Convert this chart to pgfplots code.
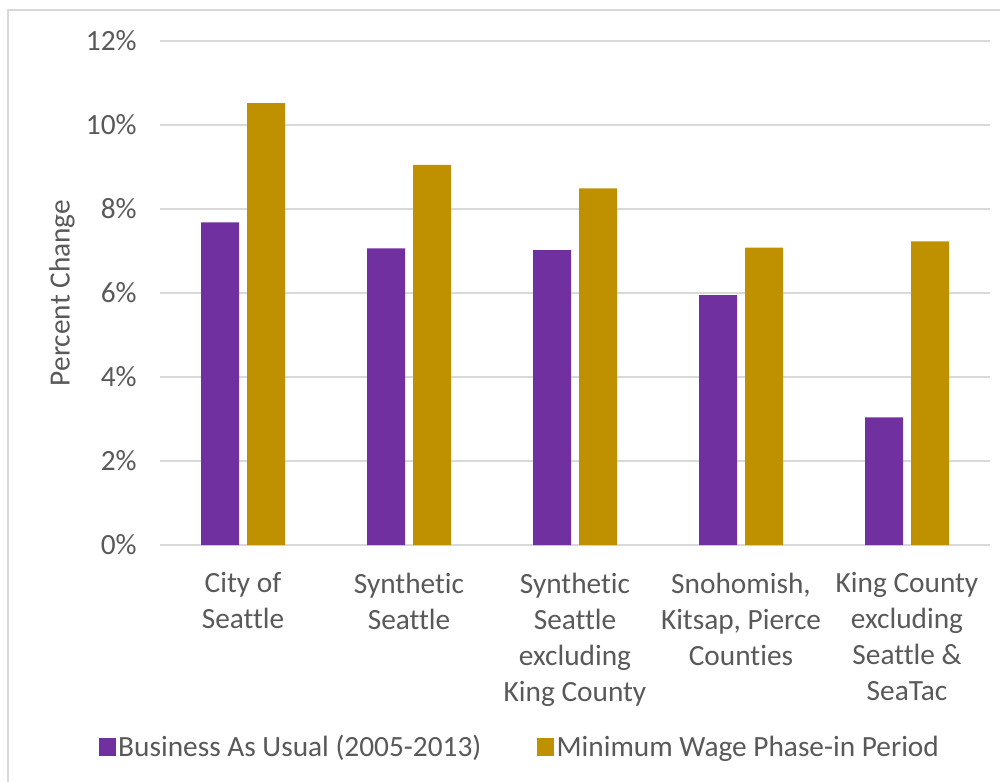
\documentclass[border=0pt]{standalone}
\usepackage{fontspec}
\setmainfont{Carlito}[Ligatures=NoCommon]
\usepackage{pgfplots}
\pgfplotsset{compat=1.18}
\definecolor{bau}{HTML}{7030A0}
\definecolor{mw}{HTML}{BF9000}
\definecolor{txt}{HTML}{595959}
\definecolor{gridc}{HTML}{D9D9D9}

\begin{document}
\begin{tikzpicture}
\useasboundingbox (0pt,0pt) rectangle (750pt,586.5pt);
\draw[gridc,line width=1.1pt] (6pt,-15pt) rectangle (765pt,579pt);
\begin{axis}[
  at={(120pt,177.75pt)},anchor=south west,
  width=622.5pt,height=378pt,scale only axis,
  clip=false,
  ymin=0,ymax=12,
  ytick={0,2,4,6,8,10,12},
  yticklabel={\pgfmathprintnumber{\tick}\%},
  xmin=-0.5,xmax=4.5,
  xtick={0,1,2,3,4},
  xticklabels={{City of\\Seattle},{Synthetic\\Seattle},{Synthetic\\Seattle\\excluding\\King County},{Snohomish,\\Kitsap, Pierce\\Counties},{King County\\excluding\\Seattle \&\\SeaTac}},
  xticklabel style={align=center,font=\fontsize{22}{27}\selectfont,text=txt,yshift=-13pt},
  yticklabel style={font=\fontsize{22}{26}\selectfont,text=txt,xshift=-14pt},
  /pgf/number format/assume math mode=true,
  ylabel={Percent Change},
  every axis y label/.style={at={(axis description cs:-0.118,0.5)},rotate=90,anchor=center,
    font=\fontsize{22}{26}\selectfont,text=txt},
  axis line style={draw=none},
  xtick style={draw=none},ytick style={draw=none},
  xmajorgrids=false,
  ymajorgrids=true,
  grid style={gridc,line width=1.1pt},
  ybar=6pt,bar width=28.5pt,
  legend style={at={(axis description cs:0.434,-0.401)},anchor=center,draw=none,
    legend columns=2,font=\fontsize{22}{26}\selectfont,text=txt,
    /tikz/every even column/.append style={column sep=40pt}},
  legend image code/.code={\fill[#1] (0pt,-6.5pt) rectangle (12.5pt,6.5pt);},
]
\addplot[fill=bau,draw=none] coordinates {(0,7.68) (1,7.06) (2,7.02) (3,5.95) (4,3.04)};
\addplot[fill=mw,draw=none] coordinates {(0,10.52) (1,9.05) (2,8.49) (3,7.08) (4,7.23)};
\legend{Business As Usual (2005-2013),Minimum Wage Phase-in Period}
\end{axis}
\end{tikzpicture}
\end{document}
